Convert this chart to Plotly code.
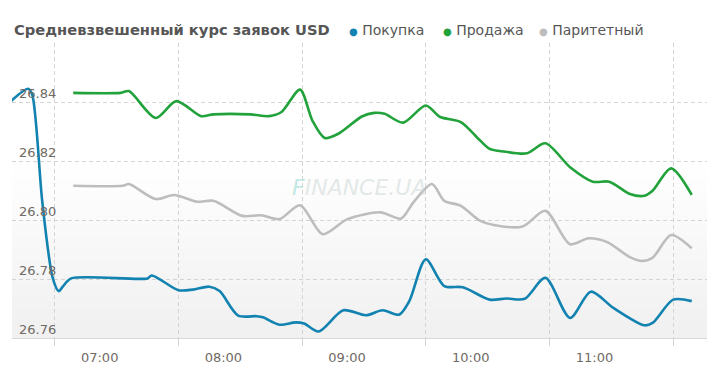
import plotly.graph_objects as go

DAY = "2024-01-01 "

title_text = "Средневзвешенный курс заявок USD"
series_names = ["Покупка", "Продажа", "Паритетный"]
series_colors = ["#1282b0", "#21a23a", "#bdbdbd"]

buy_times = ["06:39", "06:47", "06:49", "06:54", "06:59", "07:02", "07:04", "07:08", "07:45", "07:47",
             "07:51", "08:00", "08:07", "08:15", "08:20", "08:29", "08:38", "08:41", "08:49", "08:57",
             "09:01", "09:08", "09:20", "09:31", "09:39", "09:47", "09:52", "10:00", "10:09", "10:18",
             "10:31", "10:39", "10:48", "10:58", "11:10", "11:20", "11:31", "11:46", "11:50", "12:00",
             "12:09"]
buy_values = [26.8404, 26.8445, 26.8428, 26.8061, 26.7805, 26.7759, 26.7775, 26.7802, 26.7802, 26.7812,
              26.7799, 26.7762, 26.7764, 26.7774, 26.7759, 26.7676, 26.7674, 26.7670, 26.7645, 26.7653,
              26.7649, 26.7622, 26.7694, 26.7677, 26.7694, 26.7679, 26.7725, 26.7867, 26.7776, 26.7772,
              26.7730, 26.7734, 26.7733, 26.7804, 26.7668, 26.7757, 26.7702, 26.7643, 26.7651, 26.7730,
              26.7725]

sell_times = ["07:09", "07:32", "07:36", "07:49", "07:59", "08:11", "08:17", "08:35", "08:44", "08:50",
              "08:59", "09:05", "09:11", "09:18", "09:29", "09:35", "09:40", "09:49", "10:00", "10:07",
              "10:17", "10:26", "10:31", "10:38", "10:49", "10:58", "11:10", "11:21", "11:29", "11:39",
              "11:46", "11:50", "11:59", "12:09"]
sell_values = [26.8431, 26.8431, 26.8437, 26.8346, 26.8403, 26.8352, 26.8358, 26.8358, 26.8352, 26.8366,
               26.8442, 26.8337, 26.8278, 26.8294, 26.8351, 26.8363, 26.8360, 26.8330, 26.8388, 26.8349,
               26.8332, 26.8272, 26.8241, 26.8232, 26.8226, 26.8260, 26.8179, 26.8130, 26.8130, 26.8088,
               26.8082, 26.8099, 26.8175, 26.8085]

par_times = ["07:09", "07:33", "07:36", "07:49", "07:58", "08:09", "08:17", "08:31", "08:40", "08:49",
             "08:59", "09:10", "09:22", "09:38", "09:48", "09:54", "10:03", "10:09", "10:17", "10:26",
             "10:33", "10:47", "10:58", "11:10", "11:19", "11:28", "11:39", "11:45", "11:50", "11:59",
             "12:09"]
par_values = [26.8116, 26.8116, 26.8122, 26.8071, 26.8085, 26.8062, 26.8065, 26.8014, 26.8016, 26.8003,
              26.8050, 26.7952, 26.8003, 26.8026, 26.8005, 26.8060, 26.8122, 26.8065, 26.8048, 26.7999,
              26.7983, 26.7978, 26.8031, 26.7918, 26.7938, 26.7925, 26.7874, 26.7861, 26.7872, 26.7949,
              26.7904]

x_tick_hours = ["07:00", "08:00", "09:00", "10:00", "11:00", "12:00"]
x_tick_labels = ["07:00", "08:00", "09:00", "10:00", "11:00", ""]
y_tick_vals = [26.76, 26.78, 26.80, 26.82, 26.84, 26.86]
y_tick_labels = ["26.76", "26.78", "26.80", "26.82", "26.84", ""]
x_range = ["06:39:18", "12:16:24"]
y_range = [26.76, 26.86]

watermark = "FINANCE.UA"

fig = go.Figure()

# background gradient in lower part of plot
n_bands = 30
for i in range(n_bands):
    y0 = i / n_bands * 0.6
    y1 = (i + 1) / n_bands * 0.6
    c = int(241 + (255 - 241) * (i / (n_bands - 1)))
    fig.add_shape(type="rect", xref="paper", yref="paper", x0=0, x1=1, y0=y0, y1=y1 + 0.002,
                  fillcolor=f"rgb({c},{c},{c})", line_width=0, layer="below")

for name, color, times, vals in [
    (series_names[1], series_colors[1], sell_times, sell_values),
    (series_names[2], series_colors[2], par_times, par_values),
    (series_names[0], series_colors[0], buy_times, buy_values),
]:
    fig.add_trace(go.Scatter(
        x=[DAY + t for t in times], y=vals, name=name, mode="lines",
        line=dict(color=color, width=2.6, shape="spline", smoothing=0.8),
        showlegend=False, hoverinfo="skip", cliponaxis=True,
    ))

# page body has an 8px margin: figure is sized/offset to compensate
fig.update_layout(
    width=712, height=370,
    margin=dict(l=4, r=13, t=35, b=39.7, autoexpand=False),
    paper_bgcolor="white", plot_bgcolor="rgba(0,0,0,0)",
    font=dict(family="DejaVu Sans", size=13, color="#666666"),
    showlegend=False,
)

fig.update_xaxes(
    type="date", automargin=False,
    range=[DAY + x_range[0], DAY + x_range[1]],
    tickvals=[DAY + t for t in x_tick_hours], ticktext=x_tick_labels,
    ticklabelshift=45,
    showgrid=True, gridcolor="#d4d4d4", griddash="4px,3px", gridwidth=1,
    ticks="outside", ticklen=7, tickcolor="#d4d4d4",
    showline=True, linecolor="#d8d8d8", linewidth=1,
    tickfont=dict(size=13, color="#6f6a64"),
    zeroline=False,
)
fig.update_yaxes(
    automargin=False,
    range=y_range,
    tickvals=y_tick_vals, showticklabels=False,
    showgrid=True, gridcolor="#d4d4d4", griddash="4px,3px", gridwidth=1,
    showline=False, zeroline=False, ticks="",
)

def px_x(p):
    return (p - 12) / 695.0

def px_y(p):
    return (338.3 - p) / 295.0

annotations = [
    dict(text="<b>" + title_text + "</b>", x=px_x(12), y=px_y(30), xref="paper", yref="paper",
         xanchor="left", yanchor="middle", showarrow=False,
         font=dict(family="DejaVu Sans", size=14.7, color="#565656")),
    dict(text="<span style='color:#8fd6cc'><i>F</i></span><i>INANCE.UA</i>", x=px_x(360), y=px_y(188),
         xref="paper", yref="paper", xanchor="center", yanchor="middle", showarrow=False,
         font=dict(family="DejaVu Sans", size=22, color="rgba(205,215,215,0.55)")),
]
for v, lab in zip(y_tick_vals, y_tick_labels):
    if lab:
        annotations.append(dict(
            text=lab, x=px_x(17), y=v, xref="paper", yref="y", xanchor="left", yanchor="middle",
            yshift=9, showarrow=False, font=dict(family="DejaVu Sans", size=13, color="#6f6a64")))
legend_x = [347, 441, 537]
for name, color, lx in zip(series_names, series_colors, legend_x):
    annotations.append(dict(
        text=f"<span style='color:{color};font-size:10px'>●</span> {name}",
        x=px_x(lx), y=px_y(30), xref="paper", yref="paper", xanchor="left", yanchor="middle",
        showarrow=False, font=dict(family="DejaVu Sans", size=14, color="#565656")))
fig.update_layout(annotations=annotations)

fig.write_html("out.html")
